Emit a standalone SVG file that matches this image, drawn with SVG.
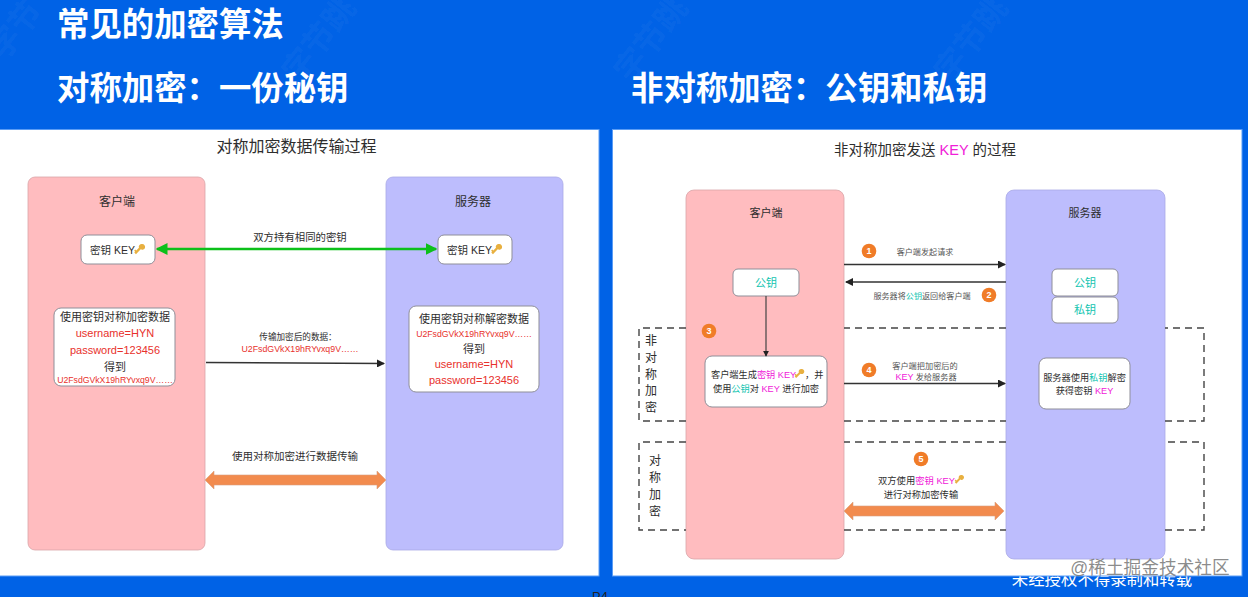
<svg xmlns="http://www.w3.org/2000/svg" width="1248" height="597" viewBox="0 0 1248 597">
<style>
text{font-family:"Liberation Sans","Noto Sans CJK SC",sans-serif;fill:#2e2e2e;text-anchor:middle}
.h{font-family:"Noto Sans CJK SC",sans-serif;font-weight:700;fill:#fff;text-anchor:start;font-size:32.400px}
.wm{font-family:"Noto Sans CJK SC",sans-serif;font-weight:700;fill:#fff;fill-opacity:.05;font-size:32px;text-anchor:start}
.pink{fill:#ffbcbf;stroke:#d9a5a8;stroke-width:.8}
.blue{fill:#bdbdfd;stroke:#a9a9e6;stroke-width:.8}
.card{fill:#fff;stroke:#8f8f99;stroke-width:1}
.r{fill:#e8312c}.m{fill:#f020d8}.c{fill:#10c4b0}
.l{stroke:#333;stroke-width:1.6;fill:none}
.dash{fill:none;stroke:#444;stroke-width:1.4;stroke-dasharray:7 5}
.badge{fill:#f07c28}.bt{fill:#fff;font-size:9px;font-weight:700}
.arrow2{fill:#f28b4e;stroke:#d9a080;stroke-width:.6}
.key{fill:#e8b040}
</style>
<defs>
<marker id="a" viewBox="0 0 8 8" refX="7" refY="4" markerWidth="5" markerHeight="5" orient="auto-start-reverse"><path d="M0 0L8 4L0 8Z" fill="#222"/></marker>
<marker id="g" viewBox="0 0 8 8" refX="7" refY="4" markerWidth="5" markerHeight="5" orient="auto-start-reverse"><path d="M0 0L8 4L0 8Z" fill="#0cc01a"/></marker>
<path id="k" d="M5 0a3.4 3.4 0 1 1 -1.8 6.3L-2.4 12l-2-2 1-1-1.200-1.200 1.400-1.400 1.200 1.200 3.100-3.100A3.400 3.400 0 0 1 5 0Z" class="key"/>
</defs>

<rect width="1248" height="597" fill="#0062e6"/>
<g id="watermarks">
<text class="wm" transform="translate(630 84) rotate(-52)">字节跳</text>
<text class="wm" transform="translate(950 84) rotate(-52)">字节跳</text>
<text class="wm" transform="translate(298 84) rotate(-52)">字节跳</text>
<text class="wm" transform="translate(4 62) rotate(-52)">字节</text>
</g>
<text class="h" x="57" y="36">常见的加密算法</text>
<text class="h" x="57" y="100">对称加密：一份秘钥</text>
<text class="h" x="631" y="100">非对称加密：公钥和私钥</text>
<text x="1102" y="585" style="fill:#fff;font-size:16.400px">未经授权不得录制和转载</text>
<text x="600" y="601" style="fill:#222;font-size:13px">P4</text>

<rect x="-1" y="129.500" width="600" height="446.500" fill="#fff" stroke="#5a9cf5"/>
<rect x="612.500" y="129.500" width="629.500" height="446.500" fill="#fff" stroke="#5a9cf5"/>

<text x="296.500" y="152" style="font-size:16px">对称加密数据传输过程</text>
<text x="925" y="155" style="font-size:14.500px">非对称加密发送 <tspan class="m">KEY</tspan> 的过程</text>

<g id="left-client"><rect class="pink" x="28" y="177" width="177" height="373" rx="7"/><text x="117" y="206" style="font-size:12px">客户端</text></g>
<g id="left-server"><rect class="blue" x="386" y="177" width="177" height="373" rx="7"/><text x="473" y="206" style="font-size:12px">服务器</text></g>
<g id="left-key-c"><rect class="card" x="81" y="235" width="74" height="29" rx="6"/><text x="112.500" y="254" style="font-size:10.500px">密钥 KEY</text><use href="#k" transform="translate(138 244) scale(.85)"/></g>
<g id="left-key-s"><rect class="card" x="438" y="235" width="74" height="29" rx="6"/><text x="469.500" y="254" style="font-size:10.500px">密钥 KEY</text><use href="#k" transform="translate(495 244) scale(.85)"/></g>
<g id="left-enc"><rect class="card" x="54" y="308" width="121" height="78" rx="7"/>
<text x="115" y="321" style="font-size:11px">使用密钥对称加密数据</text>
<text class="r" x="115" y="337" style="font-size:11px">username=HYN</text>
<text class="r" x="115" y="354" style="font-size:11px">password=123456</text>
<text x="115" y="371" style="font-size:11px">得到</text>
<text class="r" x="115" y="383" style="font-size:8.700px">U2FsdGVkX19hRYvxq9V……</text></g>
<g id="left-dec"><rect class="card" x="409" y="306" width="130" height="86" rx="7"/>
<text x="474" y="323" style="font-size:11px">使用密钥对称解密数据</text>
<text class="r" x="474" y="337" style="font-size:8.700px">U2FsdGVkX19hRYvxq9V……</text>
<text x="474" y="353" style="font-size:11px">得到</text>
<text class="r" x="474" y="368" style="font-size:11px">username=HYN</text>
<text class="r" x="474" y="384" style="font-size:11px">password=123456</text></g>

<g id="right-client"><rect class="pink" x="686" y="190" width="158" height="369" rx="8"/><text x="766" y="217" style="font-size:11px">客户端</text></g>
<g id="right-server"><rect class="blue" x="1006" y="190" width="159" height="369" rx="8"/><text x="1085" y="217" style="font-size:11px">服务器</text></g>

<g id="groups">
<path class="dash" d="M686 328H639V421H686M844 421H1006M1165 421H1204V328H1165M1006 328H844"/>
<path class="dash" d="M686 442H639V530H686M844 530H1006M1165 530H1204V442H1165M1006 442H844"/>
<g style="font-size:12px"><text x="651" y="345">非</text><text x="651" y="362">对</text><text x="651" y="379">称</text><text x="651" y="395">加</text><text x="651" y="412">密</text>
<text x="655" y="465">对</text><text x="655" y="482">称</text><text x="655" y="499">加</text><text x="655" y="516">密</text></g>
</g>

<g id="right-pub-c"><rect class="card" x="733" y="269" width="66" height="27" rx="5"/><text class="c" x="766" y="287" style="font-size:11px">公钥</text></g>
<g id="right-pub-s"><rect class="card" x="1052" y="269" width="66" height="27" rx="5"/><text class="c" x="1085" y="287" style="font-size:11px">公钥</text></g>
<g id="right-pri-s"><rect class="card" x="1052" y="297" width="66" height="26" rx="5"/><text class="c" x="1085" y="314" style="font-size:11px">私钥</text></g>
<g id="right-gen"><rect class="card" x="705" y="356" width="122" height="51" rx="7"/>
<text x="711" y="378" style="font-size:9.200px;text-anchor:start">客户端生成<tspan class="m">密钥 KEY</tspan></text><use href="#k" transform="translate(798 369) scale(.75)"/><text x="805" y="378" style="font-size:9.200px;text-anchor:start">，并</text>
<text x="766" y="392" style="font-size:9.200px">使用<tspan class="c">公钥</tspan>对 <tspan class="m">KEY</tspan> 进行加密</text></g>
<g id="right-get"><rect class="card" x="1039" y="358" width="91" height="51" rx="7"/>
<text x="1084.500" y="381" style="font-size:9.200px">服务器使用<tspan class="c">私钥</tspan>解密</text>
<text x="1084.500" y="394" style="font-size:9.200px">获得密钥 <tspan class="m">KEY</tspan></text></g>

<g id="connectors">
<line x1="157" y1="249" x2="436" y2="249" stroke="#0cc01a" stroke-width="2.400" marker-start="url(#g)" marker-end="url(#g)"/>
<line class="l" x1="206" y1="362.500" x2="384" y2="363.500" marker-end="url(#a)"/>
<path class="arrow2" d="M205 480L214 471V475H377V471L386 480L377 489V485H214V489Z"/>
<line class="l" x1="844" y1="264.500" x2="1005" y2="264.500" marker-end="url(#a)"/>
<line class="l" x1="1006" y1="282" x2="846" y2="282" marker-end="url(#a)"/>
<line class="l" x1="844" y1="383.500" x2="1005" y2="383.500" marker-end="url(#a)"/>
<line x1="766" y1="296" x2="766" y2="356" stroke="#444" stroke-width="1.200" marker-end="url(#a)"/>
<path class="arrow2" d="M844 511L853 502V506H995V502L1004 511L995 520V516H853V520Z"/>
</g>

<g id="labels">
<text x="300" y="241" style="font-size:10.400px">双方持有相同的密钥</text>
<text x="298" y="340" style="font-size:8.600px">传输加密后的数据：</text>
<text class="r" x="300" y="352" style="font-size:8.800px">U2FsdGVkX19hRYvxq9V……</text>
<text x="295" y="460" style="font-size:10.500px">使用对称加密进行数据传输</text>
<text x="925" y="255" style="font-size:8.100px;fill:#555">客户端发起请求</text>
<text x="922" y="299" style="font-size:8.100px;fill:#555">服务器将<tspan class="c">公钥</tspan>返回给客户端</text>
<text x="925" y="369" style="font-size:8.200px;fill:#555">客户端把加密后的</text>
<text x="926" y="380" style="font-size:8.200px;fill:#555"><tspan class="m" style="font-size:9px">KEY</tspan> 发给服务器</text>
<text x="878" y="484" style="font-size:9.300px;text-anchor:start">双方使用<tspan class="m">密钥 KEY</tspan></text><use href="#k" transform="translate(958 475) scale(.72)"/>
<text x="921" y="498" style="font-size:9.300px">进行对称加密传输</text>
</g>

<g id="badges">
<circle class="badge" cx="869" cy="251" r="7.300"/><text class="bt" x="869" y="254">1</text>
<circle class="badge" cx="989" cy="295" r="7.300"/><text class="bt" x="989" y="298">2</text>
<circle class="badge" cx="709" cy="331" r="7.300"/><text class="bt" x="709" y="334">3</text>
<circle class="badge" cx="869" cy="370" r="7.300"/><text class="bt" x="869" y="373">4</text>
<circle class="badge" cx="921" cy="459" r="7.300"/><text class="bt" x="921" y="462">5</text>
</g>
<text x="1150" y="574" style="fill:#777;font-size:17.700px;fill-opacity:.85">@稀土掘金技术社区</text>
</svg>
